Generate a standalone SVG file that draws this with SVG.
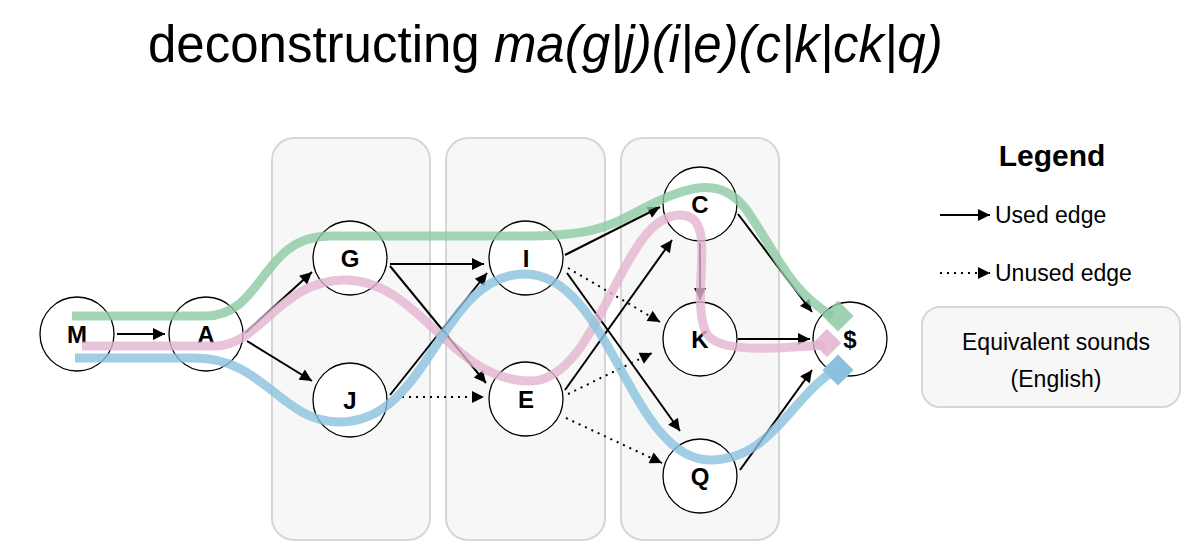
<svg xmlns="http://www.w3.org/2000/svg" width="1200" height="559" viewBox="0 0 1200 559">
<style>
text{font-family:"Helvetica","Liberation Sans",Arial,sans-serif;fill:#000}
.panel{fill:#f7f7f7;stroke:#d6d6d6;stroke-width:2}
.node circle{fill:#fff;stroke:#000;stroke-width:1.3}
.node text{font-size:24px;font-weight:bold;text-anchor:middle}
.e{stroke:#000;stroke-width:2;fill:none;marker-end:url(#ar)}
.d{stroke:#000;stroke-width:2;fill:none;stroke-dasharray:2 5;marker-end:url(#ar)}
.p{fill:none;stroke-width:9;stroke-linecap:butt;opacity:.8}
</style>
<defs>
<marker id="ar" viewBox="0 0 10 10" refX="10" refY="5" markerWidth="14" markerHeight="12" markerUnits="userSpaceOnUse" orient="auto"><path d="M0,0 L10,5 L0,10 z"/></marker>
</defs>
<rect width="1200" height="559" fill="#fff"/>
<text x="148" y="62" font-size="51">deconstructing <tspan font-style="italic">ma(g|j)(i|e)(c|k|ck|q)</tspan></text>
<g id="panels">
<rect class="panel" x="272" y="138" width="158" height="402" rx="22"/>
<rect class="panel" x="446" y="138" width="159" height="402" rx="22"/>
<rect class="panel" x="621" y="138" width="158" height="402" rx="22"/>
</g>
<g id="n-M" class="node"><circle cx="77" cy="334" r="37"/><text x="77" y="343">M</text></g>
<g id="n-A" class="node"><circle cx="206" cy="334" r="37"/><text x="206" y="343">A</text></g>
<g id="n-G" class="node"><circle cx="350" cy="258" r="37"/><text x="350" y="267">G</text></g>
<g id="n-J" class="node"><circle cx="350" cy="400" r="37"/><text x="350" y="409">J</text></g>
<g id="n-I" class="node"><circle cx="526" cy="258" r="37"/><text x="526" y="267">I</text></g>
<g id="n-E" class="node"><circle cx="526" cy="399" r="37"/><text x="526" y="408">E</text></g>
<g id="n-C" class="node"><circle cx="700" cy="204" r="37"/><text x="700" y="213">C</text></g>
<g id="n-K" class="node"><circle cx="700" cy="339" r="37"/><text x="700" y="348">K</text></g>
<g id="n-Q" class="node"><circle cx="700" cy="476" r="37"/><text x="700" y="485">Q</text></g>
<g id="n-end" class="node"><circle cx="850" cy="339" r="37"/><text x="850" y="348">$</text></g>
<g id="connectors">
<line class="e" x1="117" y1="334" x2="165" y2="334"/>
<line class="e" x1="245" y1="333" x2="312" y2="272"/>
<line class="e" x1="247" y1="341" x2="312" y2="381"/>
<line class="e" x1="390" y1="264" x2="484" y2="264"/>
<line class="e" x1="390" y1="266" x2="486" y2="383"/>
<line class="e" x1="390" y1="395" x2="487" y2="273"/>
<line class="d" x1="402" y1="397" x2="484" y2="397"/>
<line class="e" x1="565" y1="255" x2="660" y2="207"/>
<line class="d" x1="568" y1="268" x2="660" y2="322"/>
<line class="e" x1="567" y1="273" x2="680" y2="431"/>
<line class="e" x1="565" y1="390" x2="672" y2="240"/>
<line class="d" x1="568" y1="394" x2="652" y2="353"/>
<line class="d" x1="566" y1="418" x2="662" y2="463"/>
<line class="e" x1="700" y1="243" x2="700" y2="300" stroke="#5a3a4a"/>
<line class="e" x1="738" y1="214" x2="812" y2="312"/>
<line class="e" x1="738" y1="339" x2="810" y2="339"/>
<line class="e" x1="740" y1="470" x2="812" y2="370"/>
</g>
<g id="paths">
<path class="p" stroke="#8cc9a4" d="M72,316 L205,316 C265,316 260,236 330,236 L520,236 C600,236 610,225 650,205 C690,185 725,175 750,215 C780,260 790,290 832,316"/>
<rect x="827" y="305" width="22" height="22" fill="#8cc9a4" opacity=".85" transform="rotate(45 838 316)"/>
<path class="p" stroke="#e2b4cf" d="M82,346 L215,346 C260,346 280,280 345,280 C420,280 450,381 530,381 C600,381 620,215 680,215 C720,215 690,290 705,330 C712,352 760,350 825,345"/>
<rect x="817" y="333" width="20" height="20" fill="#e2b4cf" opacity=".85" transform="rotate(45 827 343)"/>
<path class="p" stroke="#8ac2de" d="M75,358 L195,358 C265,358 280,422 340,422 C430,422 440,274 525,274 C610,274 630,460 710,460 C770,460 790,400 832,372"/>
<rect x="827" y="359" width="22" height="22" fill="#8ac2de" transform="rotate(45 838 370)"/>
</g>
<g id="legend">
<text x="1052" y="166" font-size="30" font-weight="bold" text-anchor="middle">Legend</text>
<line class="e" x1="940" y1="215" x2="990" y2="215"/>
<text x="995" y="223" font-size="23">Used edge</text>
<line class="d" x1="940" y1="273" x2="990" y2="273"/>
<text x="995" y="281" font-size="23">Unused edge</text>
<rect class="panel" x="922" y="307" width="258" height="100" rx="18"/>
<text x="1056" y="350" font-size="23" text-anchor="middle" fill="#333">Equivalent sounds</text>
<text x="1056" y="387" font-size="23" text-anchor="middle" fill="#333">(English)</text>
</g>
</svg>
